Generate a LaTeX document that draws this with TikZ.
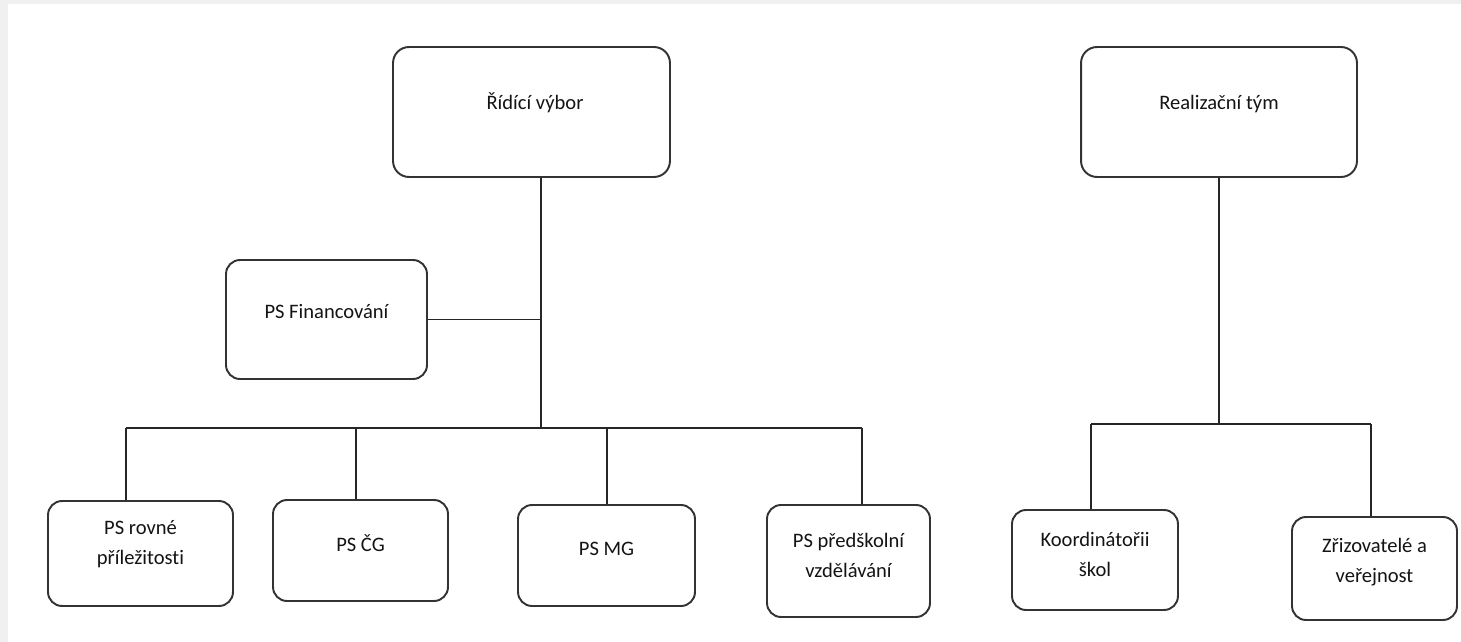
\documentclass[tikz,border=0pt]{standalone}
\usepackage{fontspec}
\setmainfont{Carlito}[Ligatures=NoCommon]
\usetikzlibrary{positioning}
\usetikzlibrary{calc}

\begin{document}
\begin{tikzpicture}[x=0.02cm, y=-0.02cm,
        box/.style={draw=black!80, line width=1.1pt, rounded corners=0.28cm},
        lbl/.style={text=black!92, align=center, inner sep=0pt, font=\fontsize{11.7}{17}\selectfont},
        ln/.style={draw=black!85, line width=0.6pt}]
        \useasboundingbox (0,0) rectangle (1461,642);
        \fill[black!6] (0,0) rectangle (1461,642);
        \fill[white] (8,4) rectangle (1461,642);

        % top level
        \node[box, minimum width=5.54cm, minimum height=2.6cm, rounded corners=0.32cm] (rv) at (531.5,112) {};
        \node[box, minimum width=5.52cm, minimum height=2.6cm, rounded corners=0.32cm] (rt) at (1219,112) {};
        \node[lbl] (rvt) at ($(rv.center)+(3.5,-9)$) {Řídící výbor};
        \node[lbl] (rtt) at ($(rt.center)+(0,-8)$) {Realizační tým};

        % side group
        \node[box, minimum width=4.02cm, minimum height=2.38cm] (fin) at (326.5,319.5) {};
        \node[lbl] (fint) at ($(fin.center)+(0,-8)$) {PS Financování};

        % working groups
        \node[box, minimum width=3.7cm, minimum height=2.1cm] (rp) at (140.5,553.5) {};
        \node[box, minimum width=3.5cm, minimum height=2.02cm] (cg) at (360.5,550.5) {};
        \node[box, minimum width=3.54cm, minimum height=2.02cm] (mg) at (606.5,555.5) {};
        \node[box, minimum width=3.26cm, minimum height=2.24cm] (pv) at (848.5,561) {};
        \node[lbl] (rpt) at ($(rp.center)+(0,-9.5)$) {PS rovné\\příležitosti};
        \node[lbl] (cgt) at ($(cg.center)+(0,-7.5)$) {PS ČG};
        \node[lbl] (mgt) at ($(mg.center)+(0,-6.5)$) {PS MG};
        \node[lbl] (pvt) at ($(pv.center)+(0,-5.5)$) {PS předškolní\\vzdělávání};

        % team members
        \node[box, minimum width=3.32cm, minimum height=2.0cm] (ks) at (1095,560) {};
        \node[box, minimum width=3.3cm, minimum height=2.06cm] (zv) at (1374.5,568.5) {};
        \node[lbl] (kst) at ($(ks.center)+(0,-6)$) {Koordinátořii\\škol};
        \node[lbl] (zvt) at ($(zv.center)+(0,-6.5)$) {Zřizovatelé a\\veřejnost};

        % bus points
        \coordinate (bus) at (541,428);
        \coordinate (j1) at (126,428);
        \coordinate (j2) at (356,428);
        \coordinate (j3) at (607,428);
        \coordinate (j4) at (862,428);
        \coordinate (rbus) at (1219,424);
        \coordinate (k1) at (1091,424);
        \coordinate (k2) at (1371,424);

        \draw[ln] (rv.south -| bus) -- (bus);
        \draw[ln] (fin.east) -- (fin.east -| bus);
        \draw[ln] (j1) -- (j4);
        \draw[ln] (j1) -- (j1 |- rp.north);
        \draw[ln] (j2) -- (j2 |- cg.north);
        \draw[ln] (j3) -- (j3 |- mg.north);
        \draw[ln] (j4) -- (j4 |- pv.north);

        \draw[ln] (rt.south) -- (rbus);
        \draw[ln] (k1) -- (k2);
        \draw[ln] (k1) -- (k1 |- ks.north);
        \draw[ln] (k2) -- (k2 |- zv.north);
    \end{tikzpicture}
\end{document}
